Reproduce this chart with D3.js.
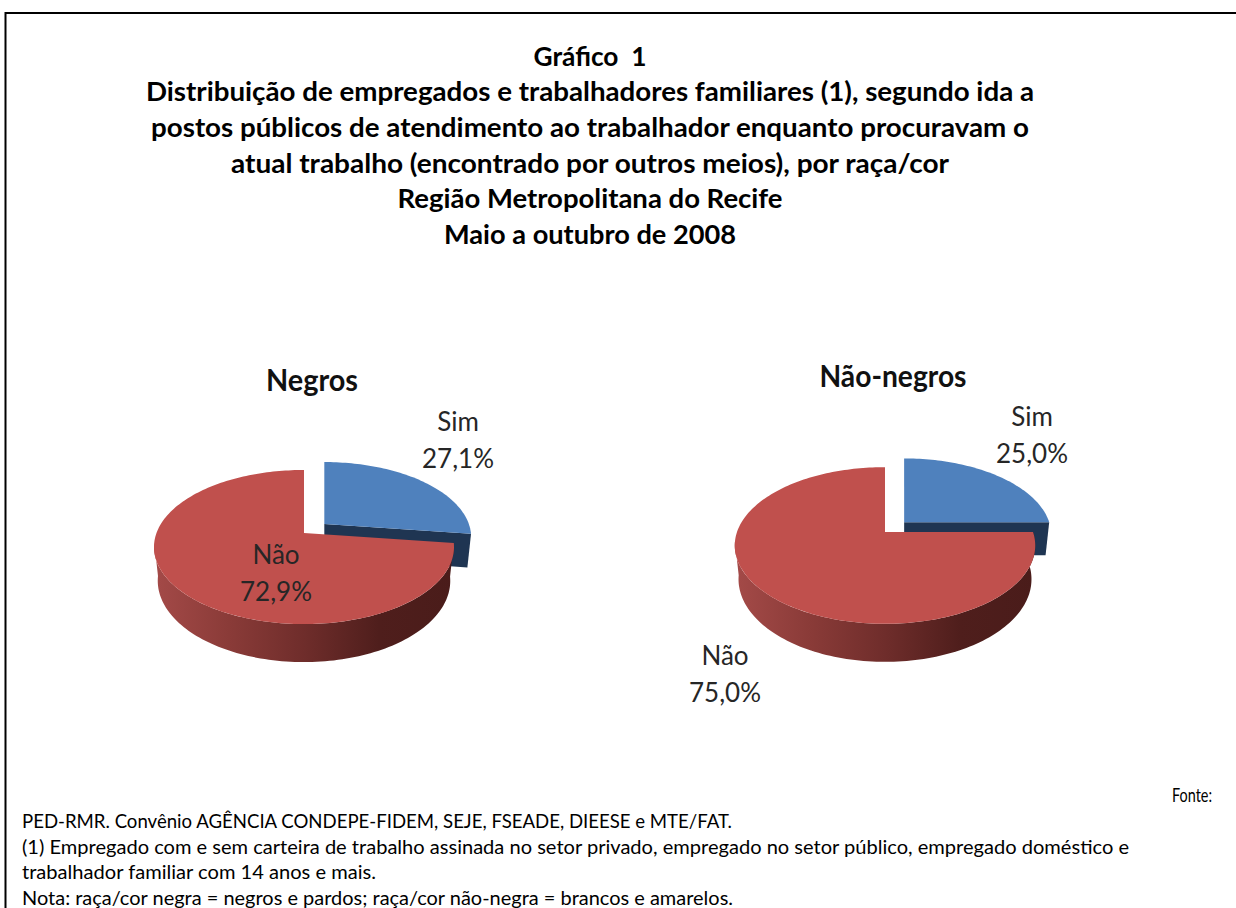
<!DOCTYPE html>
<html>
<head>
<meta charset="utf-8">
<script src="https://cdn.jsdelivr.net/npm/d3@7"></script>
<style>
  html, body { margin: 0; background: #fff; }
  svg { display: block; }
  text { font-family: Lato, "Noto Sans", sans-serif; }
</style>
</head>
<body>
<script>
// valores
const groups = ["Negros", "Não-negros"]
const categories = ["Sim", "Não"]
const simValues = [27.1, 25.0]
const naoValues = [72.9, 75.0]
const titleLines = [
    "Gráfico  1",
    "Distribuição de empregados e trabalhadores familiares (1), segundo ida a",
    "postos públicos de atendimento ao trabalhador enquanto procuravam o",
    "atual trabalho (encontrado por outros meios), por raça/cor",
    "Região Metropolitana do Recife",
    "Maio a outubro de 2008"
]
const footLines = [
    "PED-RMR. Convênio AGÊNCIA CONDEPE-FIDEM, SEJE, FSEADE, DIEESE e MTE/FAT.",
    "(1) Empregado com e sem carteira de trabalho assinada no setor privado, empregado no setor público, empregado doméstico e",
    "trabalhador familiar com 14 anos e mais.",
    "Nota: raça/cor negra = negros e pardos; raça/cor não-negra = brancos e amarelos."
]

// layout
const w = 1236, h = 908
const titleWidths = [113, 888, 878, 718, 385, 292]
const titleBase = [66, 101, 137, 173, 208, 244]
const footWidths = [710, 1107, 354, 711]
const footBase = [828, 854, 879, 905]
const pies = [
    { x: 304, y: 533, rx: 147.5, ry: 74.5, k: 0.182, titleX: 312, titleY: 391, titleW: 92,
      labels: [{ x: 458, y: 431 }, { x: 276, y: 564 }] },
    { x: 885, y: 532, rx: 148, ry: 76, k: 0.172, titleX: 893, titleY: 387, titleW: 147,
      labels: [{ x: 1032, y: 426 }, { x: 725, y: 665 }] }
]
const explode = 0.183      // só a fatia "Sim" é destacada
const simScale = 0.98
const depth = 33

const fmt = d3.formatLocale({ decimal: ",", thousands: ".", grouping: [3], currency: ["", ""] }).format(".1f")
const color = d3.scaleOrdinal(categories, ["#4f81bd", "#c0504d"])

let svg = d3.select("body").append("svg").attr("width", w).attr("height", h)

let defs = svg.append("defs")
let grad = defs.append("linearGradient").attr("id", "wallRed")
    .attr("x1", "0%").attr("x2", "100%").attr("y1", "0%").attr("y2", "0%")
grad.selectAll("stop")
    .data([[0, "#a44a48"], [0.25, "#8a3b38"], [0.5, "#6f2d2b"], [0.75, "#4f1e1c"], [1, "#4a1c1a"]])
    .enter().append("stop")
    .attr("offset", d => d[0])
    .attr("stop-color", d => d[1])

// moldura
svg.append("path")
    .attr("d", `M5.5,${h} V13 H${w}`)
    .attr("fill", "none")
    .attr("stroke", "#000")
    .attr("stroke-width", 2)

svg.append("g").selectAll("text")
    .data(titleLines)
    .enter().append("text")
    .text(d => d)
    .attr("x", 590)
    .attr("y", (d, i) => titleBase[i])
    .attr("text-anchor", "middle")
    .attr("textLength", (d, i) => titleWidths[i])
    .attr("lengthAdjust", "spacingAndGlyphs")
    .style("font-size", "27px")
    .style("font-weight", 700)
    .style("white-space", "pre")
    .attr("fill", "#000")

svg.append("text")
    .text("Fonte:")
    .attr("x", 1172).attr("y", 802)
    .attr("textLength", 40).attr("lengthAdjust", "spacingAndGlyphs")
    .style("font-size", "19px")

svg.append("g").selectAll("text")
    .data(footLines)
    .enter().append("text")
    .text(d => d)
    .attr("x", 22)
    .attr("y", (d, i) => footBase[i])
    .attr("textLength", (d, i) => footWidths[i])
    .attr("lengthAdjust", "spacingAndGlyphs")
    .style("font-size", "19.5px")

groups.forEach((g, i) => drawPie(g, [simValues[i], naoValues[i]], pies[i]))

// perspectiva simples: círculo unitário -> elipse, com o centro deslocado para cima
function project(p, a, r, lower) {
    let u = r * Math.sin(a), v = -r * Math.cos(a)
    let q = 1 - p.k * v
    let rx = lower ? p.rx * 0.975 : p.rx
    let ry = lower ? p.ry * 1.055 : p.ry
    return [p.x + rx * u / q, p.y + (lower ? depth : 0) + ry * v / q]
}

function arcPoints(p, a0, a1, r, lower) {
    let n = Math.max(2, Math.ceil(Math.abs(a1 - a0) * 40))
    return d3.range(n + 1).map(i => project(p, a0 + (a1 - a0) * i / n, r, lower))
}

function drawPie(name, values, p) {
    let arcs = d3.pie().sort(null)(values)
    let line = d3.line()
    let gc = svg.append("g")

    svg.append("text")
        .text(name)
        .attr("x", p.titleX).attr("y", p.titleY)
        .attr("text-anchor", "middle")
        .attr("textLength", p.titleW).attr("lengthAdjust", "spacingAndGlyphs")
        .style("font-size", "30px").style("font-weight", 700)
        .attr("fill", "#111")

    // fatia Sim
    let sim = arcs[0]
    let mid = (sim.startAngle + sim.endAngle) / 2
    let dx = explode * Math.sin(mid) * p.rx
    let dy = -explode * Math.cos(mid) * p.ry
    let gs = gc.append("g").attr("transform", `translate(${dx},${dy})`)
    let cut = [[p.x, p.y], project(p, sim.endAngle, simScale, false),
        project(p, sim.endAngle, simScale, true), project(p, 0, 0, true)]
    gs.append("path").attr("d", line(cut) + "Z").attr("fill", "#1f3552")
    let topSim = [[p.x, p.y], ...arcPoints(p, sim.startAngle, sim.endAngle, simScale, false)]
    gs.append("path").attr("d", line(topSim) + "Z").attr("fill", color(categories[0]))

    // fatia Não
    let nao = arcs[1]
    let wallEnd = Math.PI * 1.46
    let wall = [...arcPoints(p, nao.startAngle, wallEnd, 1, false),
        ...arcPoints(p, wallEnd, nao.startAngle, 1, true)]
    gc.append("path").attr("d", line(wall) + "Z").attr("fill", "url(#wallRed)")
    let topNao = [[p.x, p.y], ...arcPoints(p, nao.startAngle, nao.endAngle, 1, false)]
    gc.append("path").attr("d", line(topNao) + "Z").attr("fill", color(categories[1]))

    // rótulos
    categories.forEach((c, j) => {
        svg.append("text")
            .text(c)
            .attr("x", p.labels[j].x)
            .attr("y", p.labels[j].y)
            .attr("text-anchor", "middle")
            .style("font-size", "26px")
            .attr("fill", "#262626")
        svg.append("text")
            .text(fmt(values[j]) + "%")
            .attr("x", p.labels[j].x)
            .attr("y", p.labels[j].y + 37)
            .attr("text-anchor", "middle")
            .style("font-size", "26px")
            .attr("fill", "#262626")
    })
}
</script>
</body>
</html>
